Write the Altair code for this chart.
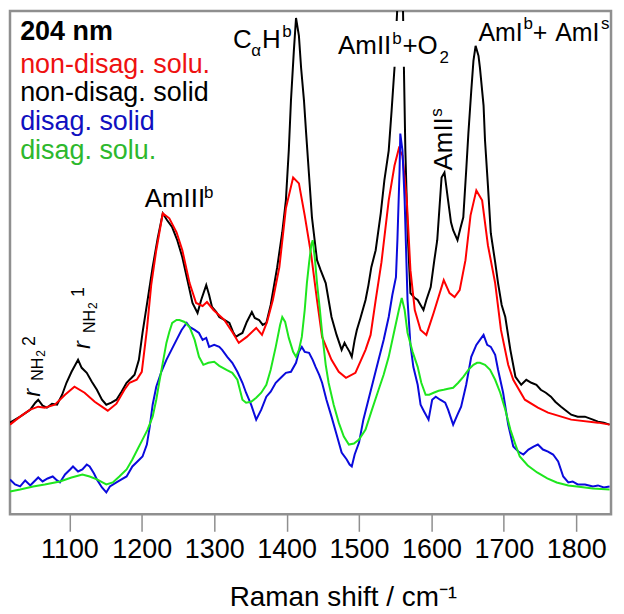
import altair as alt
import pandas as pd

# ---------------- data (Raman shift in cm-1, intensity in arbitrary units) ----------------
red_x = [1018,1032,1046,1057,1066,1080,1094,1107,1121,1135,1153,1165,1176,1183,1193,1200,1207,1213,1220,1229,
         1238,1248,1256,1266,1275,1284,1290,1299,1314,1325,1334,1345,1358,1366,1373,1381,1390,1399,1409,1417,
         1425,1434,1442,1449,1462,1472,1482,1495,1509,1516,1523,1531,1541,1549,1555,1560,1566,1571,1577,1585,
         1593,1603,1617,1625,1632,1639,1647,1654,1662,1670,1678,1688,1696,1706,1713,1729,1747,1761,1793,1830,1846]
red_y = [90,98,105,108,107,110,120,128,122,113,104,111,125,132,135,143,185,230,265,302,
         297,283,265,232,212,209,213,205,195,183,172,178,187,180,193,215,248,307,338,332,
         300,260,215,178,155,143,137,142,165,180,215,253,315,350,367,360,315,245,205,185,
         180,202,235,222,218,225,255,300,325,315,270,232,185,150,135,115,107,102,95,92,90]

black_x = [1018,1032,1046,1053,1057,1063,1069,1076,1083,1090,1096,1103,1112,1117,1124,1131,1138,1145,1151,1158,
           1165,1172,1179,1186,1190,1196,1201,1208,1215,1222,1229,1235,1242,1249,1256,1263,1270,1277,1282,1289,
           1293,1297,1303,1307,1314,1321,1326,1330,1334,1339,1345,1352,1356,1362,1367,1372,1378,1387,1394,1399,
           1403,1406,1410,1413,1417,1420,1424,1427,1431,1435,1442,1447,1454,1458,1462,1469,1476,1480,1483,1487,
           1490,1494,1497,1502,1509,1513,1517,1523,1530,1535,1541,1545,1549,1552,1555,1560,1562,1564,1567,1571,
           1577,1581,1585,1589,1593,1599,1604,1608,1614,1618,1623,1627,1630,1636,1640,1644,1648,1651,1655,1658,
           1661,1665,1667,1672,1674,1678,1682,1688,1692,1697,1702,1709,1716,1724,1731,1738,1745,1751,1758,1765,
           1771,1779,1786,1793,1802,1812,1823,1830,1838,1846]
black_y = [92,98,105,112,115,109,107,111,110,120,132,143,155,147,142,133,125,115,110,112,
           115,123,132,137,140,155,182,215,248,277,302,295,288,275,258,235,212,202,215,230,
           220,208,203,198,195,192,183,178,180,182,193,203,197,195,190,192,210,248,283,315,
           365,415,465,498,480,448,415,382,340,298,255,245,232,215,198,180,165,172,168,163,
           158,175,185,197,215,230,248,265,302,335,365,405,448,495,540,540,448,365,285,222,
           217,215,210,205,215,228,255,275,338,343,315,293,285,275,287,298,345,382,425,455,
           470,460,448,410,375,330,282,253,232,210,198,165,138,130,135,132,130,125,122,118,
           113,108,104,100,98,98,95,93,92,90]

blue_x = [1018,1025,1032,1039,1046,1050,1057,1063,1070,1077,1083,1087,1094,1101,1105,1112,1118,1124,1128,1134,
          1138,1145,1151,1156,1165,1172,1179,1187,1194,1201,1207,1211,1215,1220,1227,1234,1241,1248,1255,1262,
          1266,1273,1279,1284,1289,1293,1300,1307,1311,1318,1325,1332,1339,1344,1351,1358,1365,1372,1378,1385,
          1392,1399,1406,1413,1417,1421,1425,1431,1436,1440,1445,1449,1455,1462,1469,1476,1483,1487,1490,1494,
          1500,1506,1513,1520,1527,1534,1541,1546,1551,1553,1556,1557,1560,1563,1567,1571,1575,1581,1585,1590,
          1596,1601,1606,1612,1619,1623,1630,1636,1641,1648,1655,1662,1667,1672,1677,1682,1688,1692,1699,1706,
          1713,1720,1727,1734,1741,1747,1754,1761,1768,1775,1782,1789,1795,1802,1812,1823,1830,1838,1846]
blue_y = [35,30,28,34,29,32,37,33,36,38,34,32,40,45,48,43,45,50,48,41,
          35,27,22,28,32,35,38,48,53,58,70,88,110,128,143,155,165,175,185,192,
          188,185,182,175,177,168,170,168,165,158,152,143,132,122,110,95,105,118,123,132,
          137,142,143,152,163,168,163,162,155,148,140,132,115,98,80,62,55,50,48,60,
          72,95,115,135,155,175,198,220,238,275,345,382,365,315,215,170,148,130,110,103,
          95,115,118,115,112,105,90,100,108,130,158,170,175,180,170,168,160,145,122,90,
          68,63,60,65,68,70,65,63,60,53,38,32,33,30,30,28,29,27,28]

green_x = [1018,1032,1050,1066,1087,1103,1118,1128,1138,1151,1160,1169,1179,1187,1194,1201,1208,1215,1220,1224,
           1229,1234,1238,1242,1248,1252,1259,1266,1273,1279,1285,1292,1300,1307,1317,1325,1332,1339,1344,1351,
           1358,1365,1372,1378,1385,1391,1394,1398,1403,1409,1413,1417,1421,1425,1428,1431,1434,1436,1439,1442,
           1446,1449,1454,1458,1465,1472,1479,1486,1493,1500,1509,1517,1527,1534,1541,1549,1555,1559,1563,1567,
           1574,1581,1586,1592,1597,1603,1610,1617,1623,1630,1637,1644,1651,1658,1663,1667,1674,1681,1688,1695,
           1702,1709,1716,1722,1733,1746,1760,1773,1789,1801,1823,1846]
green_y = [23,25,28,30,33,37,40,38,35,30,32,38,45,55,65,75,85,98,115,132,
           152,172,183,192,195,195,193,188,175,158,150,152,153,149,145,142,135,115,112,113,
           117,122,130,145,168,190,198,193,177,163,158,165,178,205,232,252,270,275,257,232,
           205,182,150,132,110,92,78,70,71,75,85,103,125,140,158,185,205,217,205,182,
           163,148,132,120,120,122,124,125,126,127,132,138,145,150,152,152,150,145,135,122,
           105,85,70,58,49,42,36,32,29,28,26,25]

tick_values = [1100, 1200, 1300, 1400, 1500, 1600, 1700, 1800]

# legend-like text block (top left)
legend_text = ["204 nm", "non-disag. solu.", "non-disag. solid", "disag. solid", "disag. solu."]
legend_color = ["#000000", "#ee1111", "#000000", "#1010c0", "#2db82d"]
legend_weight = ["bold", "normal", "normal", "normal", "normal"]
legend_x = [1032, 1032, 1032, 1032, 1032]
legend_y = [476, 443, 415, 386, 357]

# horizontal band annotations: pieces of text (main text, sub- and superscripts)
ann_text = ["C", "α", "H", "b",
            "AmII", "b", "+O", "2",
            "AmI", "b", "+", "AmI", "s",
            "AmIII", "b"]
ann_x = [1326, 1351, 1366, 1394,
         1471, 1546, 1560, 1611,
         1665, 1727, 1740, 1771, 1834,
         1204, 1286]
ann_y = [468, 460, 468, 479,
         462, 472, 462, 453,
         475, 487, 475, 475, 487,
         308, 317]
ann_size = [26, 17, 26, 17,
            26, 17, 26, 17,
            25, 17, 25, 25, 17,
            26, 17]

# vertical (rotated) annotations
rot_text = ["AmII", "s", "NH", "2", "2", "NH", "2", "1"]
rot_x = [1628, 1615, 1063, 1066, 1052, 1135, 1138, 1120]
rot_y = [345, 399, 134, 158, 169, 182, 206, 218]
rot_size = [26, 17, 16, 12, 18, 16, 12, 18]

# italic "r" of the rocking-mode labels (rotated)
r_text = ["r", "r"]
r_x = [1059, 1128]
r_y = [118, 166]

# white backdrop behind the "AmII+O2" label (the black peak passes behind it)
mask_x = [1468]
mask_x2 = [1626]
mask_y = [449]
mask_y2 = [495]

# ---------------- chart ----------------
FONT = "Liberation Sans"
xscale = alt.Scale(domain=[1018, 1848], nice=False, zero=False)
yscale = alt.Scale(domain=[0, 505], nice=False, zero=False)

X = alt.X("shift:Q", scale=xscale,
          axis=alt.Axis(values=tick_values, title="Raman shift / cm⁻¹", format="d",
                        grid=False, domain=False, tickSize=17, tickWidth=1.5,
                        tickColor="#8f8f8f", labelFontSize=27, labelFont=FONT,
                        labelColor="#000000", labelPadding=5, labelFlush=False,
                        titleFontSize=28, titleFont=FONT, titleFontWeight="normal",
                        titleColor="#000000", titleX=334, titleY=91,
                        titleAlign="center", titleBaseline="alphabetic"))
Y = alt.Y("intensity:Q", scale=yscale, axis=None)


def curve(xs, ys, color):
    df = pd.DataFrame({"shift": xs, "intensity": ys})
    return alt.Chart(df).mark_line(color=color, strokeWidth=2, clip=True,
                                   interpolate="linear").encode(x=X, y=Y)


black = curve(black_x, black_y, "#000000")
red = curve(red_x, red_y, "#ff0000")
blue = curve(blue_x, blue_y, "#0a0adc")
green = curve(green_x, green_y, "#1ee61e")

mask = alt.Chart(pd.DataFrame({"shift": mask_x, "shift2": mask_x2,
                               "intensity": mask_y, "intensity2": mask_y2})).mark_rect(
    color="white").encode(x=X, x2="shift2:Q", y=Y, y2="intensity2:Q")

leg_df = pd.DataFrame({"shift": legend_x, "intensity": legend_y, "label": legend_text,
                       "col": legend_color, "w": legend_weight})
leg_bold = alt.Chart(leg_df).transform_filter(alt.datum.w == "bold").mark_text(
    align="left", baseline="alphabetic", font=FONT, fontSize=27, fontWeight="bold").encode(
    x=X, y=Y, text="label:N", color=alt.Color("col:N", scale=None))
leg_norm = alt.Chart(leg_df).transform_filter(alt.datum.w == "normal").mark_text(
    align="left", baseline="alphabetic", font=FONT, fontSize=27).encode(
    x=X, y=Y, text="label:N", color=alt.Color("col:N", scale=None))

ann_df = pd.DataFrame({"shift": ann_x, "intensity": ann_y, "label": ann_text, "fs": ann_size})
ann = alt.Chart(ann_df).mark_text(align="left", baseline="alphabetic", font=FONT,
                                  color="#000000").encode(
    x=X, y=Y, text="label:N", size=alt.Size("fs:Q", scale=None))

rot_df = pd.DataFrame({"shift": rot_x, "intensity": rot_y, "label": rot_text, "fs": rot_size})
rot = alt.Chart(rot_df).mark_text(align="left", baseline="alphabetic", font=FONT,
                                  angle=270, color="#000000").encode(
    x=X, y=Y, text="label:N", size=alt.Size("fs:Q", scale=None))

r_df = pd.DataFrame({"shift": r_x, "intensity": r_y, "label": r_text})
r_lab = alt.Chart(r_df).mark_text(align="left", baseline="alphabetic", font=FONT,
                                  fontSize=24, fontStyle="italic", angle=270,
                                  color="#000000").encode(x=X, y=Y, text="label:N")

chart = alt.layer(black, red, blue, green, mask, leg_bold, leg_norm, ann, rot, r_lab).properties(
    width=603, height=505,
    padding={"left": 2, "top": 2, "right": 5, "bottom": 100},
    autosize=alt.AutoSizeParams(type="none"),
).configure_view(stroke="#8f8f8f", strokeWidth=2.5)

chart.save("out.html", embed_options={"renderer": "svg", "actions": False})
